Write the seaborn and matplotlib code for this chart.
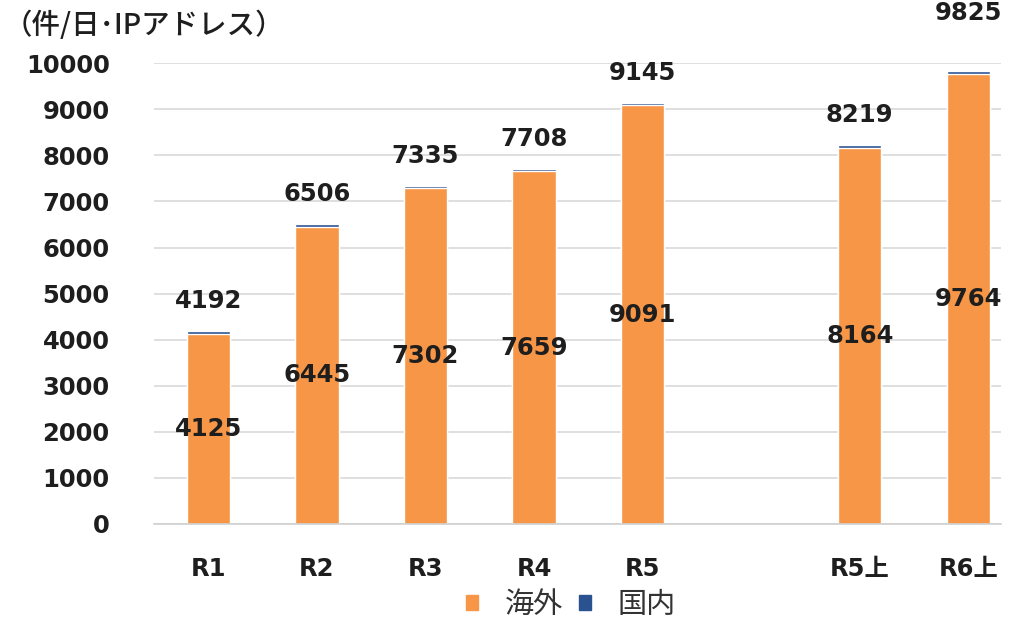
import matplotlib
matplotlib.use("Agg")
import matplotlib.pyplot as plt
import seaborn as sns
import pandas as pd
from matplotlib.patches import Patch

# Daily access counts per IP address
periods = ["R1", "R2", "R3", "R4", "R5", "R5上", "R6上"]
overseas = [4125, 6445, 7302, 7659, 9091, 8164, 9764]
totals = [4192, 6506, 7335, 7708, 9145, 8219, 9825]
slot_order = ["R1", "R2", "R3", "R4", "R5", " ", "R5上", "R6上"]

series_names = ["海外", "国内"]
c_overseas = "#F79646"
c_domestic = "#2A5291"
text_color = "#1E1E1E"

df = pd.DataFrame({"period": periods, "overseas": overseas, "total": totals})

sns.set_theme(style="white")
plt.rcParams["font.family"] = ["DejaVu Sans", "Noto Sans CJK JP"]

fig = plt.figure(figsize=(10.14, 6.26), dpi=100)
ax = fig.add_axes([0.152, 0.163, 0.835, 0.736])

# Full totals in blue; overseas part drawn over it so domestic shows on top
sns.barplot(data=df, x="period", y="total", order=slot_order, color=c_domestic,
            saturation=1, width=0.4, ax=ax)
sns.barplot(data=df, x="period", y="overseas", order=slot_order, color=c_overseas,
            saturation=1, width=0.4, ax=ax)

num_font = dict(fontsize=17.5, fontweight="bold", color=text_color,
                family=["DejaVu Sans", "Noto Sans CJK JP"])
total_labels = [f"{v}" for v in totals[:-1]] + [""]
last_label = [""] * (len(totals) - 1) + [f"{totals[-1]}"]
ax.bar_label(ax.containers[0], labels=total_labels, padding=13, **num_font)
ax.bar_label(ax.containers[0], labels=last_label, padding=33, **num_font)
ax.bar_label(ax.containers[1], labels=[f"{v}" for v in overseas],
             label_type="center", **num_font)

ax.set_ylim(0, 10000)
ax.set_xlim(-0.5, 7.3)
ax.set_yticks(range(0, 10001, 1000))
ax.yaxis.grid(True, color="#D9D9D9", linewidth=1.2)
ax.set_axisbelow(True)
for s in ["top", "right", "left"]:
    ax.spines[s].set_visible(False)
ax.spines["bottom"].set_color("#D0D0D0")
ax.spines["bottom"].set_linewidth(1.2)
ax.tick_params(axis="both", length=0, labelsize=17.5, colors=text_color)
ax.tick_params(axis="x", pad=24)
ax.tick_params(axis="y", pad=32)
for lbl in ax.get_xticklabels() + ax.get_yticklabels():
    lbl.set_fontweight("bold")
ax.set_xlabel("")
ax.set_ylabel("")

fig.text(0.004, 0.96, "（件/日･IPアドレス）", fontsize=20.5, color=text_color,
         ha="left", va="center", family=["Noto Sans CJK JP", "DejaVu Sans"],
         fontweight="medium")

handles = [Patch(color=c_overseas), Patch(color=c_domestic)]
fig.legend(handles, series_names, loc="center", bbox_to_anchor=(0.563, 0.034), ncol=2,
           frameon=False, handlelength=0.42, handleheight=0.42,
           handletextpad=0.9, columnspacing=0.55, labelcolor="#333333",
           prop={"family": ["Noto Sans CJK JP"], "size": 21})

fig.savefig("out.png", dpi=100)
